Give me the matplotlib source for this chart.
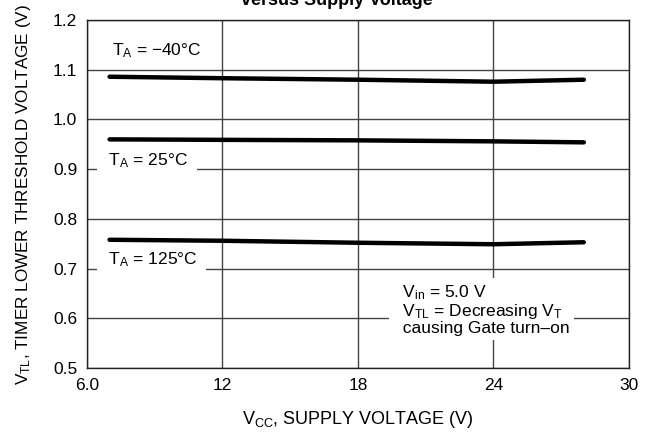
import numpy as np
import matplotlib.pyplot as plt

plt.rcParams['font.family'] = ['Liberation Sans', 'DejaVu Sans']
plt.rcParams['mathtext.default'] = 'regular'

# supply voltage (V)
vcc = [7, 12, 18, 24, 28]
# timer lower threshold voltage (V)
vtl_m40 = [1.086, 1.083, 1.080, 1.076, 1.080]
vtl_25 = [0.960, 0.959, 0.958, 0.956, 0.954]
vtl_125 = [0.758, 0.756, 0.752, 0.749, 0.753]

x_ticks = [6, 12, 18, 24, 30]
x_labels = ['6.0', '12', '18', '24', '30']
y_ticks = [0.5, 0.6, 0.7, 0.8, 0.9, 1.0, 1.1, 1.2]


def main():
    fig = plt.figure(figsize=(6.51, 4.41), dpi=100)
    ax = fig.add_axes([0.1336, 0.1655, 0.8326, 0.789])

    for v in vtl_m40, vtl_25, vtl_125:
        ax.plot(vcc, v, color='black', lw=3.2, solid_capstyle='round', zorder=4)

    ax.set_xlim(6, 30)
    ax.set_ylim(0.5, 1.2)
    ax.set_xticks(x_ticks)
    ax.set_xticklabels(x_labels)
    ax.set_yticks(y_ticks)
    ax.set_yticklabels(['%.1f' % t for t in y_ticks])
    ax.tick_params(length=0, labelsize=12.5, pad=7)
    ax.grid(True, color='#444444', lw=1.0)
    ax.set_axisbelow(True)
    for s in ax.spines.values():
        s.set_color('#222222')
        s.set_linewidth(1.0)

    fs = 12.5
    box = dict(facecolor='white', edgecolor='none', pad=2)
    ax.text(7.1, 1.138, r'T$_{A}$ = −40°C', fontsize=fs, va='center', ha='left')
    ax.text(6.55, 0.918, r'  T$_{A}$ = 25°C  ', fontsize=fs, va='center', ha='left',
            bbox=box, zorder=3)
    ax.text(6.55, 0.718, r'  T$_{A}$ = 125°C  ', fontsize=fs, va='center', ha='left',
            bbox=box, zorder=3)
    ax.text(19.55, 0.617, '  V$_{in}$ = 5.0 V\n  V$_{TL}$ = Decreasing V$_{T}$  \n'
            '  causing Gate turn–on', fontsize=fs, va='center', ha='left',
            linespacing=1.0, bbox=dict(facecolor='white', edgecolor='none', pad=3),
            zorder=3)

    ax.set_xlabel('V$_{CC}$, SUPPLY VOLTAGE (V)', fontsize=13, labelpad=12)
    ax.set_ylabel('V$_{TL}$, TIMER LOWER THRESHOLD VOLTAGE (V)', fontsize=12.3,
                  labelpad=14)

    fig.text(0.518, 1 - 5 / 441, 'versus Supply Voltage', fontsize=13,
             fontweight='bold', ha='center', va='baseline')

    fig.savefig('out.png', dpi=100)


if __name__ == '__main__':
    main()
